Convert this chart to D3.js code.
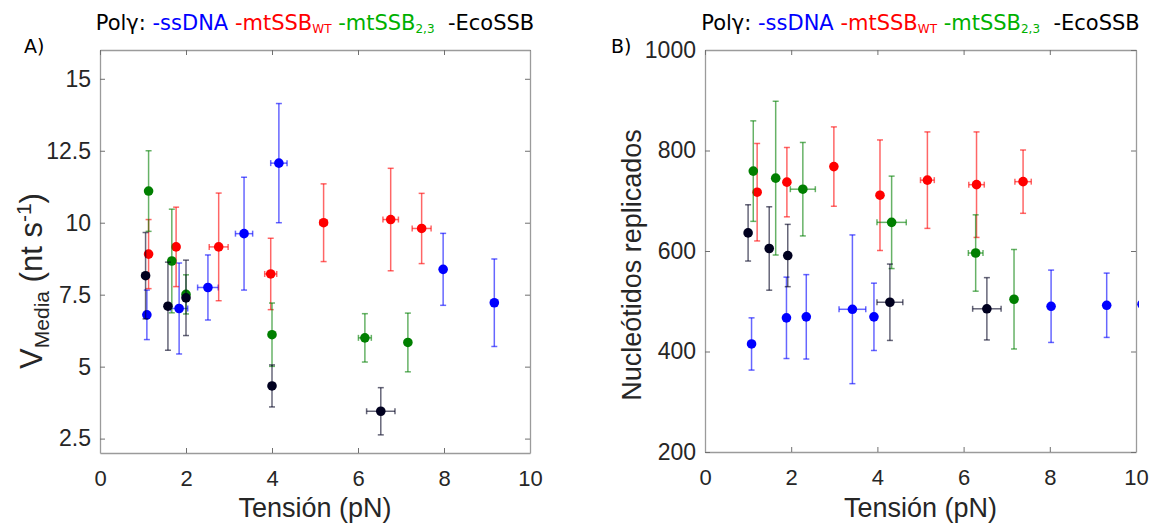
<!DOCTYPE html>
<html>
<head>
<meta charset="utf-8">
<script src="https://cdnjs.cloudflare.com/ajax/libs/d3/7.8.5/d3.min.js"></script>
<style>
  body { margin: 0; background: #fff; }
  .axis text { font-family: "Liberation Sans", Arial, sans-serif; fill: #262626; }
</style>
</head>
<body>
<div id="chart"></div>
<script>
// tick labels
var tensionTicks = [0, 2, 4, 6, 8, 10];
var velTicks = [2.5, 5, 7.5, 10, 12.5, 15];
var ntTicks = [200, 400, 600, 800, 1000];

// rows are [tension, tension error, value, value error]
// panel A: mean velocity (nt s-1)
var velSsDNA = [[1.09, 0, 6.80, 0.86], [1.84, 0.2, 7.02, 1.58], [2.51, 0.24, 7.75, 1.13], [3.35, 0.2, 9.62, 1.96], [4.16, 0.19, 12.07, 2.07], [7.98, 0, 8.38, 1.25], [9.17, 0, 7.22, 1.52]];
var velWT = [[1.13, 0, 8.91, 1.2], [1.77, 0.07, 9.16, 1.38], [2.76, 0.22, 9.16, 1.87], [3.97, 0.14, 8.22, 1.24], [5.2, 0.08, 10.0, 1.35], [6.76, 0.18, 10.11, 1.78], [7.48, 0.22, 9.80, 1.22]];
var vel23 = [[1.13, 0, 11.1, 1.4], [1.67, 0, 8.67, 1.8], [2.0, 0, 7.51, 0.68], [4.0, 0, 6.11, 1.1], [6.16, 0.15, 6.0, 0.84], [7.16, 0, 5.84, 1.02]];
var velEco = [[1.06, 0, 8.16, 1.5], [1.58, 0, 7.10, 1.53], [2.0, 0, 7.39, 1.31], [4.0, 0, 4.33, 0.73], [6.53, 0.33, 3.45, 0.82]];

// panel B: replicated nucleotides
var ntSsDNA = [[1.08, 0, 415, 52], [1.89, 0, 467, 81], [2.35, 0, 469, 84], [3.42, 0.31, 484, 148], [3.92, 0, 469, 67], [8.03, 0, 490, 72], [9.32, 0, 492, 64], [10.14, 0, 494, 60]];
var ntWT = [[1.21, 0, 717, 97], [1.90, 0, 737, 69], [2.99, 0, 768, 79], [4.06, 0, 711, 110], [5.16, 0.16, 741, 96], [6.30, 0.18, 732, 105], [7.38, 0.19, 738, 63]];
var nt23 = [[1.12, 0, 759, 100], [1.64, 0, 745, 153], [2.27, 0.29, 723, 93], [4.33, 0.34, 657, 92], [6.28, 0.17, 596, 76], [7.17, 0, 504, 99]];
var ntEco = [[1.0, 0, 636, 56], [1.49, 0, 605, 83], [1.92, 0, 591, 62], [4.29, 0.30, 498, 76], [6.54, 0.33, 485, 62]];

var seriesColors = ['#0000ff', '#ff0000', '#007f00', '#00001f'];

var svg = d3.select("#chart").append("svg").attr("width", 1155).attr("height", 525);
svg.append("rect").attr("width", 1155).attr("height", 525).attr("fill", "#fff");

drawPanel({
    id: "a", left: 100, right: 530, top: 50, bottom: 453,
    yDomain: [2, 16], yTicks: velTicks, yFormat: function(d) { return d; },
    series: [velSsDNA, velWT, vel23, velEco], tag: "A)", tagX: 24
});
drawPanel({
    id: "b", left: 705, right: 1136, top: 50, bottom: 452,
    yDomain: [200, 1000], yTicks: ntTicks, yFormat: d3.format("d"),
    series: [ntSsDNA, ntWT, nt23, ntEco], tag: "B)", tagX: 611
});

// y axis titles
var yA = svg.append("text").attr("transform", "translate(42,281) rotate(-90)")
    .attr("text-anchor", "middle").style("font-family", "Liberation Sans, Arial, sans-serif")
    .style("font-size", "31px").attr("fill", "#262626");
yA.append("tspan").text("V");
yA.append("tspan").attr("dy", 7).style("font-size", "21px").text("Media");
yA.append("tspan").attr("dy", -7).style("white-space", "pre").text(" (nt s");
yA.append("tspan").attr("dy", -11).style("font-size", "21px").text("-1");
yA.append("tspan").attr("dy", 11).text(")");

svg.append("text").attr("transform", "translate(641,265) rotate(-90)")
    .attr("text-anchor", "middle").style("font-family", "Liberation Sans, Arial, sans-serif")
    .style("font-size", "27px").attr("fill", "#262626").text("Nucleótidos replicados");

function drawPanel(p) {
    var x = d3.scaleLinear().domain([0, 10]).range([p.left, p.right]);
    var y = d3.scaleLinear().domain(p.yDomain).range([p.bottom, p.top]);
    var g = svg.append("g");

    // axes on all four sides, ticks pointing inwards
    var bottomAx = g.append("g").attr("class", "axis").attr("transform", "translate(0," + p.bottom + ")")
        .call(d3.axisBottom(x).tickValues(tensionTicks).tickSizeInner(-5).tickSizeOuter(0).tickPadding(17));
    var leftAx = g.append("g").attr("class", "axis").attr("transform", "translate(" + p.left + ",0)")
        .call(d3.axisLeft(y).tickValues(p.yTicks).tickFormat(p.yFormat).tickSizeInner(-5).tickSizeOuter(0).tickPadding(9));
    var topAx = g.append("g").attr("class", "axis").attr("transform", "translate(0," + p.top + ")")
        .call(d3.axisTop(x).tickValues(tensionTicks).tickFormat("").tickSizeInner(-5).tickSizeOuter(0));
    var rightAx = g.append("g").attr("class", "axis").attr("transform", "translate(" + p.right + ",0)")
        .call(d3.axisRight(y).tickValues(p.yTicks).tickFormat("").tickSizeInner(-5).tickSizeOuter(0));
    [bottomAx, leftAx, topAx, rightAx].forEach(function(a) {
        a.select(".domain").attr("stroke", "#9b9b9b").attr("stroke-width", 1.3);
        a.selectAll(".tick line").attr("stroke", "#707070");
    });
    bottomAx.selectAll("text").style("font-size", "22px");
    leftAx.selectAll("text").style("font-size", "23px");

    g.append("text").attr("x", (p.left + p.right) / 2).attr("y", 517).attr("text-anchor", "middle")
        .style("font-family", "Liberation Sans, Arial, sans-serif").style("font-size", "27px")
        .attr("fill", "#262626").text("Tensión (pN)");

    g.append("text").attr("x", p.tagX).attr("y", 53)
        .style("font-family", "DejaVu Sans, sans-serif").style("font-size", "19px")
        .attr("fill", "#000").text(p.tag);

    // legend title above the box
    var lg = g.append("text").attr("x", (p.left + p.right) / 2).attr("y", 30).attr("text-anchor", "middle")
        .style("font-family", "DejaVu Sans, sans-serif").style("font-size", "21px").style("white-space", "pre");
    lg.append("tspan").attr("fill", "#000").text("Polγ: ");
    lg.append("tspan").attr("fill", "#0000ff").text("-ssDNA ");
    lg.append("tspan").attr("fill", "#ff0000").text("-mtSSB");
    lg.append("tspan").attr("fill", "#ff0000").attr("dy", 3).style("font-size", "12px").text("WT");
    lg.append("tspan").attr("fill", "#00b000").attr("dy", -3).text(" -mtSSB");
    lg.append("tspan").attr("fill", "#00b000").attr("dy", 3).style("font-size", "12px").text("2,3");
    lg.append("tspan").attr("fill", "#000").attr("dy", -3).text("  -EcoSSB");

    // clip marks to the box
    g.append("clipPath").attr("id", "clip-" + p.id).append("rect")
        .attr("x", p.left).attr("y", p.top).attr("width", p.right - p.left + 3).attr("height", p.bottom - p.top);
    var plot = g.append("g").attr("clip-path", "url(#clip-" + p.id + ")");

    var cap = 3;
    p.series.forEach(function(rows, si) {
        var col = seriesColors[si];
        var sg = plot.append("g");
        var eb = sg.append("g").attr("stroke", col).attr("stroke-width", 1.5).attr("stroke-opacity", 0.6).attr("fill", "none");
        rows.forEach(function(r) {
            var cx = x(r[0]), cy = y(r[2]);
            var y0 = y(r[2] - r[3]), y1 = y(r[2] + r[3]);
            eb.append("line").attr("x1", cx).attr("x2", cx).attr("y1", y0).attr("y2", y1);
            eb.append("line").attr("x1", cx - cap).attr("x2", cx + cap).attr("y1", y0).attr("y2", y0);
            eb.append("line").attr("x1", cx - cap).attr("x2", cx + cap).attr("y1", y1).attr("y2", y1);
            if (r[1] > 0) {
                var x0 = x(r[0] - r[1]), x1 = x(r[0] + r[1]);
                eb.append("line").attr("x1", x0).attr("x2", x1).attr("y1", cy).attr("y2", cy);
                eb.append("line").attr("x1", x0).attr("x2", x0).attr("y1", cy - cap).attr("y2", cy + cap);
                eb.append("line").attr("x1", x1).attr("x2", x1).attr("y1", cy - cap).attr("y2", cy + cap);
            }
        });
        sg.selectAll("circle").data(rows).enter().append("circle")
            .attr("cx", function(d) { return x(d[0]); })
            .attr("cy", function(d) { return y(d[2]); })
            .attr("r", 4.8).attr("fill", col);
    });
}
</script>
</body>
</html>
